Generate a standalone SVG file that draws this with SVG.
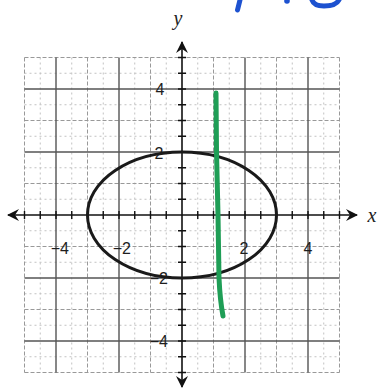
<svg xmlns="http://www.w3.org/2000/svg" width="378" height="392" viewBox="0 0 378 392">
<style>
.half{stroke:#c2c2c2;stroke-width:1;stroke-dasharray:2 3;fill:none}
.odd{stroke:#999;stroke-width:1;stroke-dasharray:4 2;fill:none}
.even{stroke:#555;stroke-width:1.4;fill:none}
.axis{stroke:#111;stroke-width:1.6;fill:none}
.tick{stroke:#111;stroke-width:1.4}
.num{font-family:"Liberation Sans",Arial,sans-serif;font-size:16px;fill:#1e1e1e}
.var{font-family:"Liberation Serif","Times New Roman",serif;font-style:italic;font-size:20px;fill:#222}
.ink{stroke:#1d52d0;stroke-width:5;stroke-linecap:round;fill:none}
</style>
<defs>
<marker id="ah" viewBox="0 0 12 12" refX="11" refY="6" markerWidth="12" markerHeight="12" markerUnits="userSpaceOnUse" orient="auto-start-reverse">
<path d="M0,0 L12,6 L0,12 L4,6 z" fill="#111"/>
</marker>
</defs>
<rect width="378" height="392" fill="#fff"/>
<g id="ink">
<path class="ink" d="M240,0 L237.5,10"/>
<circle cx="287" cy="1" r="2.8" fill="#1d52d0"/>
<path class="ink" d="M312,0 Q314,6 324,6 Q336,6 339,0"/>
</g>
<g id="grid">
<g class="half">
<path d="M40.25,57.5V372.5M71.75,57.5V372.5M103.25,57.5V372.5M134.75,57.5V372.5M166.25,57.5V372.5M197.75,57.5V372.5M229.25,57.5V372.5M260.75,57.5V372.5M292.25,57.5V372.5M323.75,57.5V372.5"/>
<path d="M24.5,73.25H339.5M24.5,104.75H339.5M24.5,136.25H339.5M24.5,167.75H339.5M24.5,199.25H339.5M24.5,230.75H339.5M24.5,262.25H339.5M24.5,293.75H339.5M24.5,325.25H339.5M24.5,356.75H339.5"/>
</g>
<g class="odd">
<path d="M24.5,57.5V372.5M87.5,57.5V372.5M150.5,57.5V372.5M213.5,57.5V372.5M276.5,57.5V372.5M339.5,57.5V372.5"/>
<path d="M24.5,57.5H339.5M24.5,120.5H339.5M24.5,183.5H339.5M24.5,246.5H339.5M24.5,309.5H339.5M24.5,372.5H339.5"/>
</g>
<g class="even">
<path d="M56,57.5V372.5M119,57.5V372.5M245,57.5V372.5M308,57.5V372.5"/>
<path d="M24.5,89H339.5M24.5,152H339.5M24.5,278H339.5M24.5,341H339.5"/>
</g>
</g>
<g id="axes">
<path class="axis" d="M8,215H357" marker-start="url(#ah)" marker-end="url(#ah)"/>
<path class="axis" d="M182,387V42" marker-start="url(#ah)" marker-end="url(#ah)"/>
<path class="tick" d="M24.5,211V219M40.25,211V219M56,211V219M71.75,211V219M87.5,211V219M103.25,211V219M119,211V219M134.75,211V219M150.5,211V219M166.25,211V219M197.75,211V219M213.5,211V219M229.25,211V219M245,211V219M260.75,211V219M276.5,211V219M292.25,211V219M308,211V219M323.75,211V219M339.5,211V219"/>
<path class="tick" d="M178,57.5H186M178,73.25H186M178,89H186M178,104.75H186M178,120.5H186M178,136.25H186M178,152H186M178,167.75H186M178,183.5H186M178,199.25H186M178,230.75H186M178,246.5H186M178,262.25H186M178,278H186M178,293.75H186M178,309.5H186M178,325.25H186M178,341H186M178,356.75H186M178,372.5H186"/>
</g>
<g id="labels">
<text class="var" x="178" y="25" text-anchor="middle">y</text>
<text class="var" x="372" y="222" text-anchor="middle">x</text>
<text class="num" x="160" y="95" text-anchor="middle">4</text>
<text class="num" x="159" y="159" text-anchor="middle">2</text>
<text class="num" x="168" y="284" text-anchor="end">−2</text>
<text class="num" x="168" y="347" text-anchor="end">−4</text>
<text class="num" x="69" y="254" text-anchor="end">−4</text>
<text class="num" x="131" y="254" text-anchor="end">−2</text>
<text class="num" x="244" y="254" text-anchor="middle">2</text>
<text class="num" x="308" y="254" text-anchor="middle">4</text>
</g>
<g id="ellipse">
<ellipse cx="182" cy="215" rx="94.5" ry="63" fill="none" stroke="#1a1a1a" stroke-width="3"/>
</g>
<g id="green-line">
<path d="M216,93 L216.5,152 L218,215 L219,278 Q220,300 223,316" fill="none" stroke="#1f9e56" stroke-width="5" stroke-linecap="round"/>
</g>
</svg>
